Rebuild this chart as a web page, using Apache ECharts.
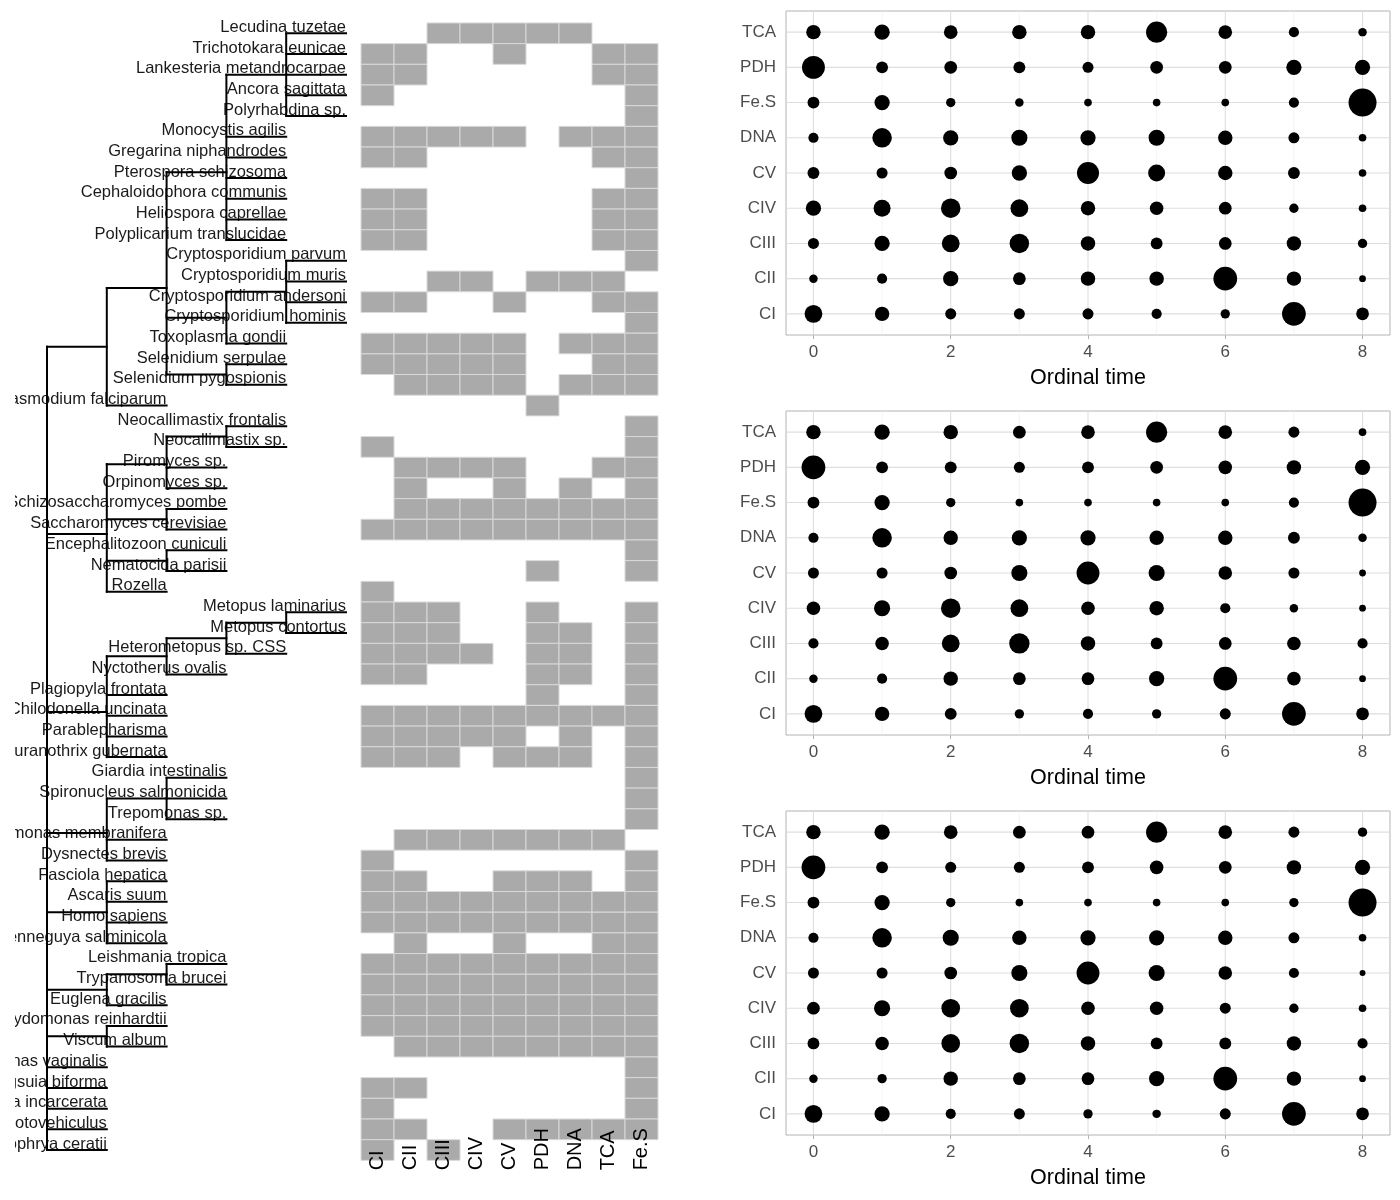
<!DOCTYPE html>
<html>
<head>
<meta charset="utf-8">
<script src="https://cdn.jsdelivr.net/npm/echarts@6/dist/echarts.min.js"></script>
<style>
html,body{margin:0;padding:0;background:#fff;}
#chart{width:1400px;height:1200px;}
</style>
</head>
<body>
<div id="chart"></div>
<script>
// ---------------- DATA ----------------
// Cladogram (nested lists, leaves are species names; order top to bottom)
const tree = [
  [
    [
      [
        ['Lecudina tuzetae','Trichotokara eunicae','Lankesteria metandrocarpae','Ancora sagittata','Polyrhabdina sp.'],
        'Monocystis agilis','Gregarina niphandrodes','Pterospora schizosoma','Cephaloidophora communis','Heliospora caprellae','Polyplicarium translucidae'
      ],
      [
        ['Cryptosporidium parvum','Cryptosporidium muris','Cryptosporidium andersoni','Cryptosporidium hominis'],
        'Toxoplasma gondii'
      ],
      ['Selenidium serpulae','Selenidium pygospionis']
    ],
    'Plasmodium falciparum'
  ],
  [
    [['Neocallimastix frontalis','Neocallimastix sp.'],'Piromyces sp.','Orpinomyces sp.'],
    ['Schizosaccharomyces pombe','Saccharomyces cerevisiae'],
    ['Encephalitozoon cuniculi','Nematocida parisii'],
    'Rozella'
  ],
  [
    [[['Metopus laminarius','Metopus contortus'],'Heterometopus sp. CSS'],'Nyctotherus ovalis'],
    'Plagiopyla frontata','Chilodonella uncinata','Parablepharisma','Muranothrix gubernata'
  ],
  [
    ['Giardia intestinalis','Spironucleus salmonicida','Trepomonas sp.'],
    'Carpediemonas membranifera','Dysnectes brevis'
  ],
  ['Fasciola hepatica','Ascaris suum','Homo sapiens','Henneguya salminicola'],
  [['Leishmania tropica','Trypanosoma brucei'],'Euglena gracilis'],
  ['Chlamydomonas reinhardtii','Viscum album'],
  'Trichomonas vaginalis','Pygsuia biforma','Andalucia incarcerata','Protovehiculus','Amoebophrya ceratii'
];

// Presence (1) / absence (0) per species, columns in tileFunctions order
const tileFunctions = ['CI','CII','CIII','CIV','CV','PDH','DNA','TCA','Fe.S'];
const presence = [
  '001111100','110010011','110000011','100000001','000000001',
  '111110111','110000011','000000001','110000011','110000011',
  '110000011','000000001','001101110','110010011','000000001',
  '111110111','111110011','011110111','000001000','000000001',
  '100000001','011110011','010010101','011111111','111111111',
  '000000001','000001001','100000000','111001001','111001101',
  '111101101','110001101','000001001','111111111','111110101',
  '111011101','000000001','000000001','000000001','011111110',
  '100000001','110011101','111111111','111111111','010010011',
  '111111111','111111111','111111111','111111111','011111111',
  '000000001','110000001','100000001','110011111','101000000'
];

// Bubble panels: rows follow bubbleFunctions (bottom to top), columns = ordinal time
const ordinalTimes = [0,1,2,3,4,5,6,7,8];
const bubbleFunctions = ['CI','CII','CIII','CIV','CV','DNA','Fe.S','PDH','TCA'];
const panel1Sizes = [
  [4.2,3.4,2.6,2.6,2.6,2.4,2.2,5.6,3.0],
  [2.0,2.4,3.6,3.0,3.4,3.4,5.6,3.4,1.6],
  [2.6,3.6,4.2,4.6,3.4,2.8,3.0,3.4,2.2],
  [3.6,4.0,4.6,4.2,3.4,3.2,3.0,2.2,1.8],
  [2.8,2.6,3.0,3.6,5.2,4.0,3.4,2.8,1.8],
  [2.4,4.6,3.6,3.8,3.6,3.8,3.4,2.6,1.8],
  [2.8,3.6,2.2,2.0,1.8,1.8,1.8,2.4,6.6],
  [5.4,2.8,3.0,2.8,2.6,3.0,3.0,3.6,3.6],
  [3.4,3.6,3.2,3.4,3.4,5.0,3.2,2.4,2.0]
];
const panel2Sizes = [
  [4.2,3.4,2.8,2.2,2.4,2.2,2.6,5.6,3.0],
  [2.0,2.4,3.4,3.0,3.0,3.6,5.6,3.2,1.6],
  [2.4,3.2,4.2,4.8,3.4,2.8,3.0,3.2,2.4],
  [3.2,3.8,4.6,4.2,3.2,3.4,2.4,2.0,1.6],
  [2.6,2.6,3.0,3.8,5.4,3.8,3.2,2.6,1.6],
  [2.4,4.6,3.4,3.6,3.6,3.4,3.4,2.8,2.0],
  [2.8,3.6,2.2,1.8,1.8,1.8,1.8,2.4,6.6],
  [5.6,2.8,2.8,2.6,2.8,3.0,3.2,3.4,3.6],
  [3.4,3.6,3.4,3.0,3.2,5.0,3.2,2.6,1.8]
];
const panel3Sizes = [
  [4.2,3.6,2.4,2.6,2.2,2.0,2.6,5.6,3.0],
  [2.0,2.2,3.4,3.0,3.0,3.6,5.6,3.4,1.6],
  [2.8,3.2,4.4,4.6,3.4,2.8,2.8,3.4,2.4],
  [3.0,3.8,4.4,4.4,3.2,3.2,2.6,2.2,1.8],
  [2.6,2.6,3.0,3.8,5.4,3.8,3.2,2.4,1.4],
  [2.4,4.6,3.8,3.4,3.6,3.6,3.4,2.6,1.8],
  [2.8,3.6,2.2,1.8,1.8,1.8,1.8,2.2,6.6],
  [5.6,2.8,2.6,2.6,2.8,3.2,3.0,3.4,3.6],
  [3.4,3.6,3.2,3.0,3.0,5.0,3.2,2.6,2.2]
];
const xMajorTicks = [0,2,4,6,8];
const xMinorTicks = [1,3,5,7];
const yTicks = [1,2,3,4,5,6,7,8,9];

// ---------------- BUILD ----------------
const FONT = "'Liberation Sans', Arial, Helvetica, sans-serif";
const segments = [];
const tips = [];
const species = [];
let leafCounter = 0;
function layout(node, depth) {
  if (typeof node === 'string') {
    const y = leafCounter++;
    tips.push([depth, y, node]);
    species.push(node);
    return y;
  }
  const ys = node.map(ch => layout(ch, depth + 1));
  ys.forEach(y => segments.push([depth, y, depth + 1, y]));
  segments.push([depth, Math.min(...ys), depth, Math.max(...ys)]);
  return ys.reduce((a, b) => a + b, 0) / ys.length;
}
layout(tree, 0);
const nRows = species.length;

const tileData = [];
presence.forEach((row, r) => {
  row.split('').forEach((c, j) => { if (c === '1') tileData.push([j, r]); });
});

const ROW = 20.68;
const rowTop = 33.3;

const grids = [
  {left: 47, top: rowTop, width: 299, height: ROW * (nRows - 1)},
  {left: 361, top: rowTop - ROW / 2, width: 297, height: ROW * nRows},
];
const panelTops = [11, 411, 811];
panelTops.forEach(t => grids.push({left: 786, top: t, width: 604, height: 324,
  show: true, borderColor: '#b3b3b3', borderWidth: 1, backgroundColor: 'transparent'}));
grids.forEach(g => { g.outerBoundsMode = 'none'; g.containLabel = false; });

const xAxes = [
  {gridIndex: 0, type: 'value', min: 0, max: 5, show: false},
  {gridIndex: 1, type: 'category', data: tileFunctions, axisLine: {show: false}, axisTick: {show: false}, z: 20,
   axisLabel: {rotate: 90, align: 'left', verticalAlign: 'middle', margin: 10, fontSize: 20, color: '#000', fontFamily: FONT, interval: 0}},
];
const yAxes = [
  {gridIndex: 0, type: 'value', min: 0, max: nRows - 1, inverse: true, show: false},
  {gridIndex: 1, type: 'category', data: species, inverse: true, show: false},
];
const series = [
  {
    type: 'custom', xAxisIndex: 0, yAxisIndex: 0, data: segments,
    encode: {x: [0, 2], y: [1, 3]}, clip: false, z: 3,
    renderItem: (params, api) => {
      const p1 = api.coord([api.value(0), api.value(1)]);
      const p2 = api.coord([api.value(2), api.value(3)]);
      return {type: 'line', shape: {x1: p1[0], y1: p1[1], x2: p2[0], y2: p2[1]},
        style: {stroke: '#000', lineWidth: 2, lineCap: 'square'}};
    }
  },
  {
    type: 'custom', xAxisIndex: 0, yAxisIndex: 0, data: tips,
    encode: {x: 0, y: 1}, clip: false, z: 2,
    renderItem: (params, api) => {
      const p = api.coord([api.value(0), api.value(1)]);
      return {type: 'text', x: p[0], y: p[1] + 2.5,
        style: {text: tips[params.dataIndex][2], align: 'right', verticalAlign: 'bottom',
          fontSize: 16.5, fontFamily: FONT, fill: '#1a1a1a'}};
    }
  },
  {
    type: 'custom', xAxisIndex: 1, yAxisIndex: 1, data: tileData,
    encode: {x: 0, y: 1}, z: 1,
    renderItem: (params, api) => {
      const c = api.coord([api.value(0), api.value(1)]);
      const s = api.size([1, 1]);
      return {type: 'rect', shape: {x: c[0] - s[0] / 2, y: c[1] - s[1] / 2, width: s[0], height: s[1]},
        style: {fill: '#aaaaaa', stroke: '#d9d9d9', lineWidth: 1}};
    }
  }
];

const panels = [panel1Sizes, panel2Sizes, panel3Sizes];
panels.forEach((sizes, k) => {
  const gi = 2 + k;
  xAxes.push({gridIndex: gi, type: 'value', min: -0.4, max: 8.4,
    axisLine: {show: false}, splitLine: {show: false},
    axisTick: {show: true, length: 4, lineStyle: {color: '#b3b3b3'}, customValues: xMajorTicks},
    axisLabel: {customValues: xMajorTicks, margin: 9, fontSize: 17, color: '#4d4d4d', fontFamily: FONT},
    name: 'Ordinal time', nameLocation: 'middle', nameGap: 32,
    nameTextStyle: {fontSize: 21.5, color: '#000', fontFamily: FONT}});
  yAxes.push({gridIndex: gi, type: 'value', min: 0.4, max: 9.6,
    axisLine: {show: false}, splitLine: {show: false},
    axisTick: {show: true, length: 4, lineStyle: {color: '#b3b3b3'}, customValues: yTicks},
    axisLabel: {customValues: yTicks, margin: 10, fontSize: 17, color: '#4d4d4d', fontFamily: FONT,
      formatter: v => bubbleFunctions[Math.round(v) - 1]}});
  const ai = xAxes.length - 1;
  // gridlines: [orientation (0 vertical, 1 horizontal), value, major]
  const gl = [];
  xMinorTicks.forEach(v => gl.push([0, v, 0]));
  xMajorTicks.forEach(v => gl.push([0, v, 1]));
  yTicks.forEach(v => gl.push([1, v, 1]));
  series.push({type: 'custom', xAxisIndex: ai, yAxisIndex: ai, data: gl, z: 1, silent: true,
    encode: {x: 1},
    renderItem: (params, api) => {
      const cs = params.coordSys;
      const o = api.value(0), v = api.value(1), major = api.value(2);
      let shape;
      if (o === 0) {
        const x = api.coord([v, 5])[0];
        shape = {x1: x, y1: cs.y, x2: x, y2: cs.y + cs.height};
      } else {
        const y = api.coord([4, v])[1];
        shape = {x1: cs.x, y1: y, x2: cs.x + cs.width, y2: y};
      }
      return {type: 'line', shape: shape,
        style: {stroke: major ? '#dedede' : '#ececec', lineWidth: major ? 1.1 : 0.6}};
    }});
  const pts = [];
  sizes.forEach((row, ci) => row.forEach((v, ti) => pts.push([ordinalTimes[ti], ci + 1, v])));
  series.push({type: 'scatter', xAxisIndex: ai, yAxisIndex: ai, data: pts, z: 5,
    symbol: 'circle', symbolSize: val => val[2] * 4.24,
    itemStyle: {color: '#000', opacity: 1}});
});

const chart = echarts.init(document.getElementById('chart'), null, {renderer: 'canvas'});
chart.setOption({
  animation: false,
  backgroundColor: '#fff',
  textStyle: {fontFamily: FONT},
  grid: grids, xAxis: xAxes, yAxis: yAxes, series: series,
  graphic: [{type: 'rect', left: 0, top: 0, shape: {width: 15, height: 1200}, style: {fill: '#fff'}, z: 100}]
});
</script>
</body>
</html>
